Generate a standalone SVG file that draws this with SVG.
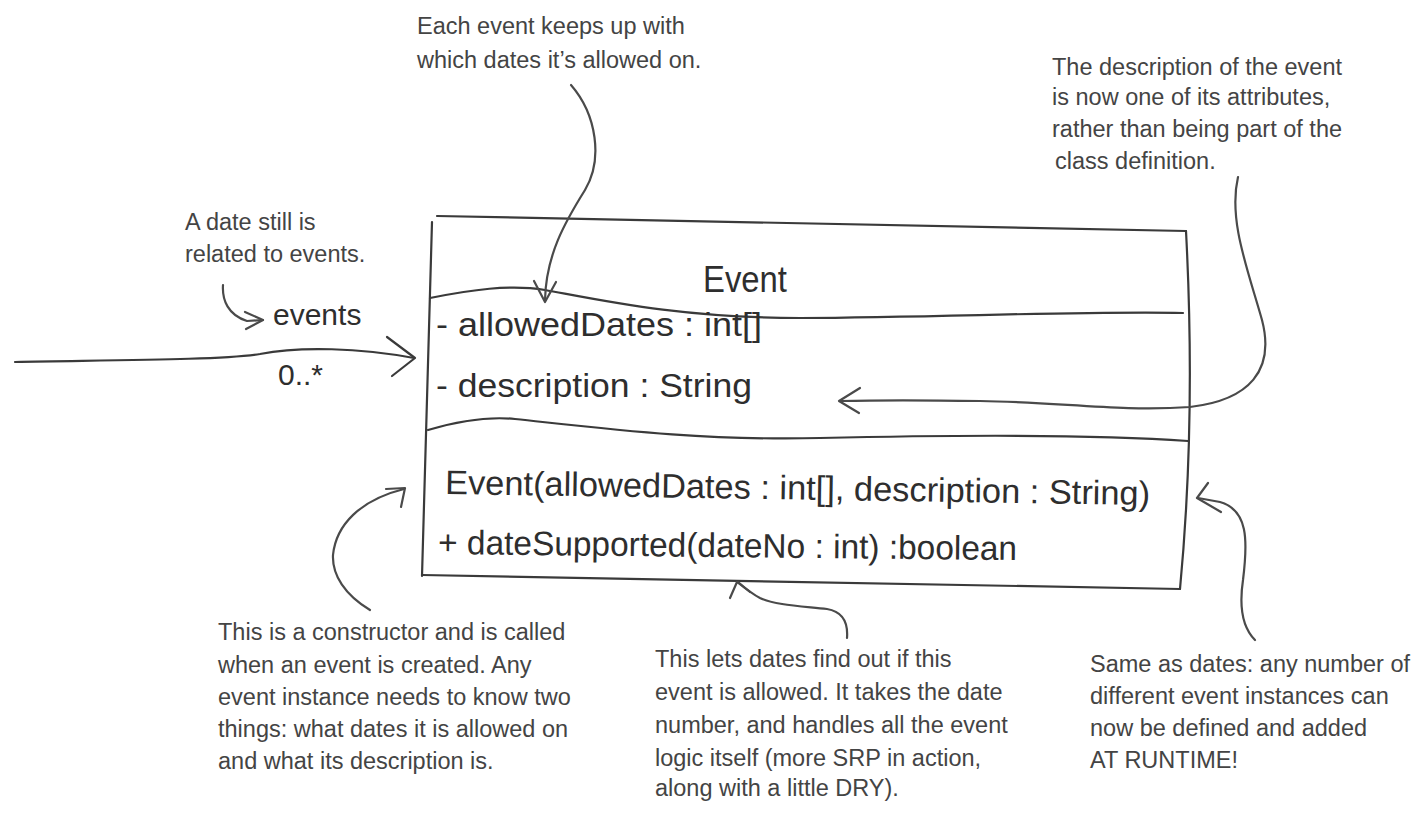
<svg xmlns="http://www.w3.org/2000/svg" width="1412" height="813" viewBox="0 0 1412 813">
<style>
  .bg{fill:#ffffff}
  .box{fill:none;stroke:#3a3a3a;stroke-width:2.2;stroke-linecap:round;stroke-linejoin:round}
  .ln{fill:none;stroke:#4a4a4a;stroke-width:2.2;stroke-linecap:round;stroke-linejoin:round}
  .big{font-family:"Liberation Sans","DejaVu Sans",sans-serif;font-size:34px;fill:#2e2e2e}
  .hdr{font-family:"Liberation Sans","DejaVu Sans",sans-serif;font-size:36px;fill:#2e2e2e}
  .lab{font-family:"Liberation Sans","DejaVu Sans",sans-serif;font-size:30px;fill:#2e2e2e}
  .note{font-family:"Liberation Sans","DejaVu Sans",sans-serif;font-size:23.5px;fill:#444444}
</style>
<rect class="bg" x="0" y="0" width="1412" height="813"/>

<g id="event-class">
  <path class="box" d="M437,216 L1186,231"/>
  <path class="box" d="M432,222 L422,576"/>
  <path class="box" d="M422,575 L1180,589"/>
  <path class="box" d="M1186,231 Q1196,420 1180,589"/>
  <path class="box" d="M430,298 C470,290 510,284 545,290 C600,300 680,318 800,318 C950,317 1080,311 1183,313"/>
  <path class="box" d="M428,430 C455,422 485,416 515,419 C600,428 700,441 820,438 C950,435 1090,434 1188,441"/>
  <text class="hdr" x="703" y="292" textLength="84" lengthAdjust="spacingAndGlyphs">Event</text>
  <text class="big" x="436" y="336" textLength="326" lengthAdjust="spacingAndGlyphs">- allowedDates : int[]</text>
  <text class="big" x="436" y="397" textLength="316" lengthAdjust="spacingAndGlyphs">- description : String</text>
  <text class="big" x="445" y="494" transform="rotate(0.9 445 494)" textLength="705" lengthAdjust="spacingAndGlyphs">Event(allowedDates : int[], description : String)</text>
  <text class="big" x="438" y="554" transform="rotate(0.6 438 554)" textLength="579" lengthAdjust="spacingAndGlyphs">+ dateSupported(dateNo : int) :boolean</text>
</g>

<g id="association-labels">
  <text class="lab" x="273" y="325">events</text>
  <text class="lab" x="278" y="385">0..*</text>
</g>

<g id="note-dates">
  <text class="note" x="417" y="34">Each event keeps up with</text>
  <text class="note" x="417" y="68">which dates it’s allowed on.</text>
</g>

<g id="note-description">
  <text class="note" x="1052" y="75">The description of the event</text>
  <text class="note" x="1052" y="105">is now one of its attributes,</text>
  <text class="note" x="1052" y="137">rather than being part of the</text>
  <text class="note" x="1055" y="169">class definition.</text>
</g>

<g id="note-related">
  <text class="note" x="185" y="230">A date still is</text>
  <text class="note" x="185" y="262">related to events.</text>
</g>

<g id="note-constructor">
  <text class="note" x="218" y="640">This is a constructor and is called</text>
  <text class="note" x="218" y="673">when an event is created. Any</text>
  <text class="note" x="218" y="705">event instance needs to know two</text>
  <text class="note" x="218" y="737">things: what dates it is allowed on</text>
  <text class="note" x="218" y="769">and what its description is.</text>
</g>

<g id="note-datesupported">
  <text class="note" x="655" y="667">This lets dates find out if this</text>
  <text class="note" x="655" y="700">event is allowed. It takes the date</text>
  <text class="note" x="655" y="733">number, and handles all the event</text>
  <text class="note" x="655" y="766">logic itself (more SRP in action,</text>
  <text class="note" x="655" y="796">along with a little DRY).</text>
</g>

<g id="note-runtime">
  <text class="note" x="1090" y="672">Same as dates: any number of</text>
  <text class="note" x="1090" y="704">different event instances can</text>
  <text class="note" x="1090" y="736">now be defined and added</text>
  <text class="note" x="1090" y="768">AT RUNTIME!</text>
</g>

<g id="connectors">
  <path class="box" d="M15,362 C120,360 220,360 260,354 C300,346 360,348 414,358"/>
  <path class="box" d="M387,337 L415,358 L392,376"/>
  <path class="ln" d="M223,285 C222,300 228,315 247,321 L263,320"/>
  <path class="ln" d="M245,312 L263,320 L246,329"/>
  <path class="ln" d="M571,85 C597,115 603,160 585,190 C565,222 546,255 545,300"/>
  <path class="ln" d="M534,281 L545,302 L556,282"/>
  <path class="ln" d="M1238,177 C1228,220 1248,270 1262,320 C1275,370 1250,400 1190,407 C1120,412 1060,402 980,401 C920,400 880,400 840,401"/>
  <path class="ln" d="M860,388 L839,401 L859,413"/>
  <path class="ln" d="M1255,640 C1240,625 1240,600 1243,580 C1248,540 1248,510 1220,502 L1198,498"/>
  <path class="ln" d="M1208,483 L1197,498 L1221,512"/>
  <path class="ln" d="M370,610 C345,595 332,575 333,555 C336,525 360,500 404,489"/>
  <path class="ln" d="M386,489 L405,488 L401,507"/>
  <path class="ln" d="M847,638 C848,625 845,612 827,609 C800,606 775,605 760,598 C752,594 745,588 738,582"/>
  <path class="ln" d="M730,598 L737,582 L750,592"/>
</g>
</svg>
